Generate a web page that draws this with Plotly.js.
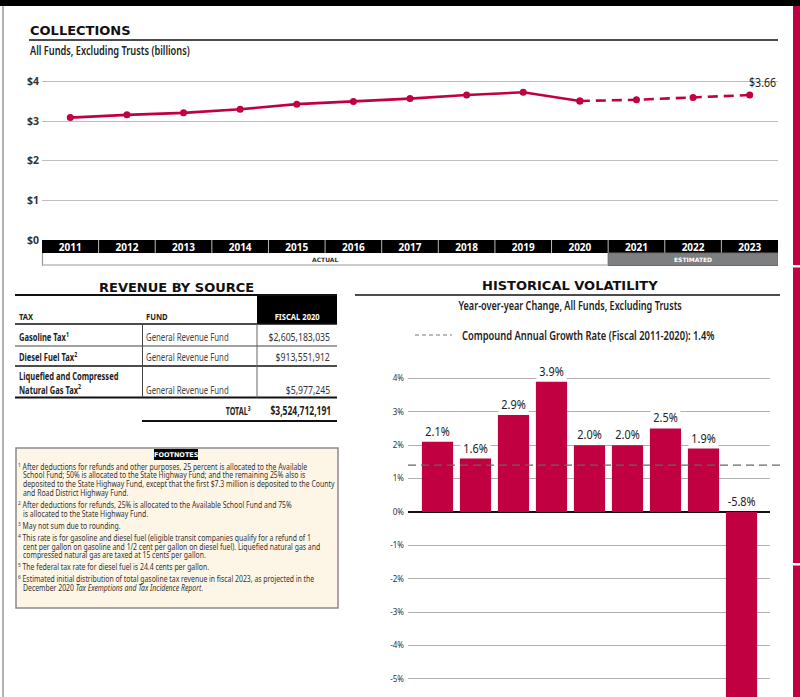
<!DOCTYPE html>
<html>
<head>
<meta charset="utf-8">
<script src="https://cdn.plot.ly/plotly-3.0.1.min.js"></script>
<style>
html,body{margin:0;padding:0;background:#fff;}
#chart{width:800px;height:697px;}
</style>
</head>
<body>
<div id="chart"></div>
<script>
// ---------------- DATA ----------------
const years = [2011, 2012, 2013, 2014, 2015, 2016, 2017, 2018, 2019, 2020, 2021, 2022, 2023];
const collections = [3.09, 3.16, 3.21, 3.30, 3.43, 3.50, 3.57, 3.66, 3.73, 3.51, 3.54, 3.60, 3.66];
const lastActualYear = 2020;
const yTickVals = [0, 1, 2, 3, 4];
const yTickText = ['$0', '$1', '$2', '$3', '$4'];

const growthYears = [2012, 2013, 2014, 2015, 2016, 2017, 2018, 2019, 2020];
const growth = [2.1, 1.6, 2.9, 3.9, 2.0, 2.0, 2.5, 1.9, -5.8];
const cagr = 1.4;
const growthTickVals = [-5, -4, -3, -2, -1, 0, 1, 2, 3, 4];

const taxNames = ['Gasoline Tax', 'Diesel Fuel Tax', 'Liquefied and Compressed<br>Natural Gas Tax'];
const taxNotes = [1, 2, 2];
const funds = ['General Revenue Fund', 'General Revenue Fund', 'General Revenue Fund'];
const amounts = [2605183035, 913551912, 5977245];
const totalAmount = 3524712191;
const tableHeaders = ['TAX', 'FUND', 'FISCAL 2020'];

const footnotes = [
  ['After deductions for refunds and other purposes, 25 percent is allocated to the Available',
   'School Fund; 50% is allocated to the State Highway Fund; and the remaining 25% also is',
   'deposited to the State Highway Fund, except that the first $7.3 million is deposited to the County',
   'and Road District Highway Fund.'],
  ['After deductions for refunds, 25% is allocated to the Available School Fund and 75%',
   'is allocated to the State Highway Fund.'],
  ['May not sum due to rounding.'],
  ['This rate is for gasoline and diesel fuel (eligible transit companies qualify for a refund of 1',
   'cent per gallon on gasoline and 1/2 cent per gallon on diesel fuel). Liquefied natural gas and',
   'compressed natural gas are taxed at 15 cents per gallon.'],
  ['The federal tax rate for diesel fuel is 24.4 cents per gallon.'],
  ['Estimated initial distribution of total gasoline tax revenue in fiscal 2023, as projected in the',
   'December 2020 <i>Tax Exemptions and Tax Incidence Report</i>.']
];

// ---------------- STYLE / LAYOUT HELPERS ----------------
const W = 800, H = 697;
const X = p => p / W;
const Y = p => 1 - p / H;
const NARROW = '"Noto Sans", "Liberation Sans", sans-serif';
const WIDE = '"DejaVu Sans", Verdana, sans-serif';
const RED = '#c00040';
const annotations = [];
const condense = {};   // annotation index -> horizontal scale (narrow typeface look)
const shapes = [];

function txt(x, y, text, o) {
  o = o || {};
  const xa = o.xa || 'left';
  if (o.sx) condense[annotations.length] = o.sx;
  annotations.push({
    xref: 'paper', yref: 'paper', x: X(x), y: Y(y), text: text, showarrow: false,
    xanchor: xa, yanchor: o.ya || 'middle', align: xa,
    borderpad: 0, bgcolor: o.bg || 'rgba(0,0,0,0)',
    font: {family: o.family || NARROW, size: o.size || 10, color: o.color || '#222', weight: o.weight || 'normal'}
  });
}
function rect(x0, y0, x1, y1, fill, line, lw, layer) {
  shapes.push({type: 'rect', xref: 'paper', yref: 'paper', x0: X(x0), x1: X(x1), y0: Y(y0), y1: Y(y1),
    fillcolor: fill, line: {color: line || 'rgba(0,0,0,0)', width: lw || 0}, layer: layer || 'below'});
}
function hline(x0, x1, y, color, w, dash, layer) {
  shapes.push({type: 'line', xref: 'paper', yref: 'paper', x0: X(x0), x1: X(x1), y0: Y(y), y1: Y(y),
    line: {color: color, width: w, dash: dash || 'solid'}, layer: layer || 'above'});
}
function vline(x, y0, y1, color, w, layer) {
  shapes.push({type: 'line', xref: 'paper', yref: 'paper', x0: X(x), x1: X(x), y0: Y(y0), y1: Y(y1),
    line: {color: color, width: w}, layer: layer || 'above'});
}

// ---------------- PAGE FRAME ----------------
rect(0, 0, 800, 6, '#000');
vline(3, 6, 697, '#9a9a9a', 1.5, 'below');
rect(793, 6, 800, 697, RED);
rect(792, 265, 800, 267.5, '#fff');
rect(792, 563, 800, 565.5, '#fff');

// ---------------- COLLECTIONS ----------------
txt(29, 30, 'COLLECTIONS', {family: WIDE, size: 13, weight: 'bold', color: '#111'});
hline(29, 778, 40, '#111', 1.5);
txt(29, 51, 'All Funds, Excluding Trusts (billions)', {size: 12, color: '#222', weight: 600, sx: 0.77});

// year band
rect(42, 240, 778, 253, '#000');
for (let i = 0; i < years.length - 1; i++) {
  shapes.push({type: 'line', xref: 'x', yref: 'paper', x0: years[i] + 0.5, x1: years[i] + 0.5,
    y0: Y(240), y1: Y(253), line: {color: '#bbb', width: 1}, layer: 'below'});
}
// actual / estimated
shapes.push({type: 'rect', xref: 'x', yref: 'paper', x0: years[0] - 0.5, x1: lastActualYear + 0.5,
  y0: Y(265), y1: Y(253), fillcolor: '#fff', line: {width: 0}, layer: 'below'});
vline(42.5, 253, 265.5, '#999', 1.2);
shapes.push({type: 'line', xref: 'x', yref: 'paper', x0: years[0] - 0.5, x1: lastActualYear + 0.5,
  y0: Y(265), y1: Y(265), line: {color: '#999', width: 1.2}, layer: 'above'});
shapes.push({type: 'rect', xref: 'x', yref: 'paper', x0: lastActualYear + 0.5, x1: years[years.length - 1] + 0.5,
  y0: Y(265.5), y1: Y(253), fillcolor: '#7d7f81', line: {color: '#6a6a6a', width: 1}, layer: 'below'});
annotations.push({xref: 'x', yref: 'paper', x: (years[0] - 0.5 + lastActualYear + 0.5) / 2, y: Y(259.5),
  text: 'ACTUAL', showarrow: false, xanchor: 'center', yanchor: 'middle',
  font: {family: WIDE, size: 6, color: '#333', weight: 'bold'}});
annotations.push({xref: 'x', yref: 'paper', x: (lastActualYear + 0.5 + years[years.length - 1] + 0.5) / 2, y: Y(259.5),
  text: 'ESTIMATED', showarrow: false, xanchor: 'center', yanchor: 'middle',
  font: {family: WIDE, size: 6, color: '#fff', weight: 'bold'}});

// last label
condense[annotations.length] = 0.85;
annotations.push({xref: 'x', yref: 'y', x: years[years.length - 1], y: collections[collections.length - 1],
  text: '$' + collections[collections.length - 1].toFixed(2), showarrow: false,
  xanchor: 'left', yanchor: 'bottom', align: 'left', xshift: -3, yshift: 2,
  font: {family: NARROW, size: 12.5, color: '#222'}});

const iLast = years.indexOf(lastActualYear);
const actualTrace = {
  type: 'scatter', mode: 'lines+markers', x: years.slice(0, iLast + 1), y: collections.slice(0, iLast + 1),
  xaxis: 'x', yaxis: 'y', line: {color: RED, width: 2.6}, marker: {color: RED, size: 7}, hoverinfo: 'skip'
};
const estTrace = {
  type: 'scatter', mode: 'lines+markers', x: years.slice(iLast), y: collections.slice(iLast),
  xaxis: 'x', yaxis: 'y', line: {color: RED, width: 2.6, dash: '10px,6px'}, marker: {color: RED, size: 7}, hoverinfo: 'skip'
};

// ---------------- REVENUE BY SOURCE ----------------
txt(176, 287, 'REVENUE BY SOURCE', {family: WIDE, size: 13, weight: 'bold', color: '#111', xa: 'center'});
hline(15, 337, 295, '#111', 2);
rect(257, 295, 337, 324, '#000');
txt(18, 316, tableHeaders[0], {size: 9.5, weight: 'bold', sx: 0.8});
txt(145, 316, tableHeaders[1], {size: 9.5, weight: 'bold', sx: 0.8});
txt(297, 316, tableHeaders[2], {size: 9.5, weight: 'bold', color: '#fff', xa: 'center', sx: 0.8});
hline(15, 337, 324, '#111', 1.6);
const rowY = [336, 356, 389];
const rowLines = [346, 366, 397.5];
const rowLineW = [1, 1.6, 1.8];
const rowLineC = ['#444', '#111', '#111'];
for (let i = 0; i < taxNames.length; i++) {
  const multi = taxNames[i].indexOf('<br>') >= 0;
  txt(18, multi ? rowY[i] - 6 : rowY[i], taxNames[i] + '<sup>' + taxNotes[i] + '</sup>',
      {size: 10.5, weight: 'bold', color: '#222', sx: 0.72});
  txt(145, rowY[i], funds[i], {size: 11, color: '#444', sx: 0.71});
  txt(331, rowY[i], '$' + amounts[i].toLocaleString('en-US'), {size: 11, color: '#333', xa: 'right', sx: 0.79});
  hline(15, 337, rowLines[i], rowLineC[i], rowLineW[i]);
}
vline(142.5, 324, 397.5, '#444', 1);
vline(257, 324, 397.5, '#666', 1);
txt(252, 410, 'TOTAL<sup>3</sup>', {size: 10.5, weight: 'bold', xa: 'right', sx: 0.68});
txt(332, 410, '$' + totalAmount.toLocaleString('en-US'), {size: 11.5, weight: 'bold', xa: 'right', sx: 0.74});
hline(142, 337, 421, '#111', 2);

// ---------------- FOOTNOTES ----------------
rect(16, 448, 338, 608, '#fdf6e6', '#8a8a8a', 1.5);
rect(154, 449, 198, 460, '#000', null, 0, 'above');
txt(176, 454.5, 'FOOTNOTES', {family: WIDE, size: 6.5, weight: 'bold', color: '#fff', xa: 'center'});
let fy = 466;
for (let n = 0; n < footnotes.length; n++) {
  for (let j = 0; j < footnotes[n].length; j++) {
    if (j === 0) {
      txt(17, fy, '<sup>' + (n + 1) + '</sup> ' + footnotes[n][j], {size: 8.2, color: '#333', sx: 0.84});
    } else {
      txt(21.5, fy, footnotes[n][j], {size: 8.2, color: '#333', sx: 0.84});
    }
    fy += 8.8;
  }
  fy += 3.2;
}

// ---------------- HISTORICAL VOLATILITY ----------------
txt(570, 285, 'HISTORICAL VOLATILITY', {family: WIDE, size: 13, weight: 'bold', color: '#111', xa: 'center'});
hline(355, 780, 295, '#111', 1.5);
txt(570, 306, 'Year-over-year Change, All Funds, Excluding Trusts', {size: 12, weight: 600, xa: 'center', sx: 0.76});
hline(415, 452, 335, '#777', 1, '4px,3px');
txt(461, 335, 'Compound Annual Growth Rate (Fiscal 2011-2020): ' + cagr.toFixed(1) + '%', {size: 12, weight: 600, sx: 0.78});

shapes.push({type: 'line', xref: 'paper', yref: 'y2', x0: X(408), x1: X(782), y0: cagr, y1: cagr,
  line: {color: '#666', width: 1.2, dash: '8px,5px'}, layer: 'above'});

for (let i = 0; i < growth.length; i++) {
  condense[annotations.length] = 0.84;
  annotations.push({xref: 'x2', yref: 'y2', x: growthYears[i], y: Math.max(growth[i], 0),
    text: growth[i].toFixed(1) + '%', showarrow: false, xanchor: 'center', yanchor: 'bottom', align: 'center',
    yshift: 1, bgcolor: '#fff', borderpad: 0, font: {family: NARROW, size: 13, color: '#222'}});
}

const barTrace = {
  type: 'bar', x: growthYears, y: growth, xaxis: 'x2', yaxis: 'y2', width: 0.82,
  marker: {color: RED}, hoverinfo: 'skip'
};

const layout = {
  width: W, height: H, margin: {l: 0, r: 0, t: 0, b: 0}, paper_bgcolor: '#fff', plot_bgcolor: 'rgba(0,0,0,0)',
  showlegend: false,
  xaxis: {domain: [X(42), X(778)], range: [2010.5, 2023.5], tickvals: years, ticktext: years.map(String),
    showgrid: false, zeroline: false, showline: false, ticks: '', anchor: 'y',
    tickfont: {family: NARROW, size: 10, color: '#fff', weight: 'bold'}, fixedrange: true},
  yaxis: {domain: [Y(240), Y(60)], range: [0, 4.545], tickvals: yTickVals, ticktext: yTickText,
    showgrid: true, gridcolor: '#bdbdbd', gridwidth: 1, zeroline: false, showline: false, ticks: '',
    ticklabelstandoff: 2, tickfont: {family: NARROW, size: 10.5, color: '#333', weight: 'bold'}, anchor: 'x'},
  xaxis2: {domain: [X(408), X(770)], range: [2011.224, 2020.75], showticklabels: false, showgrid: false,
    zeroline: false, showline: false, ticks: '', anchor: 'y2'},
  yaxis2: {domain: [0, Y(360)], range: [-5.54, 4.55], tickvals: growthTickVals,
    ticktext: growthTickVals.map(v => v + '%'), showgrid: true, gridcolor: '#b0b0b0', gridwidth: 1,
    zeroline: true, zerolinecolor: '#111', zerolinewidth: 2, showline: false, ticks: '', ticklabelstandoff: 3,
    tickfont: {family: NARROW, size: 8, color: '#333'}, anchor: 'x2'},
  shapes: shapes,
  annotations: annotations
};

Plotly.newPlot('chart', [barTrace, actualTrace, estTrace], layout, {displayModeBar: false, staticPlot: true})
  .then(function (gd) {
    // give the Noto Sans texts the narrow proportions of the original typeface
    gd.querySelectorAll('g.annotation').forEach(function (g) {
      const s = condense[+g.getAttribute('data-index')];
      if (!s) return;
      const t = g.querySelector('text.annotation-text');
      if (!t) return;
      const x = parseFloat(t.getAttribute('x')) || 0;
      t.setAttribute('transform', 'translate(' + x + ',0) scale(' + s + ',1) translate(' + (-x) + ',0)');
    });
  });
</script>
</body>
</html>
